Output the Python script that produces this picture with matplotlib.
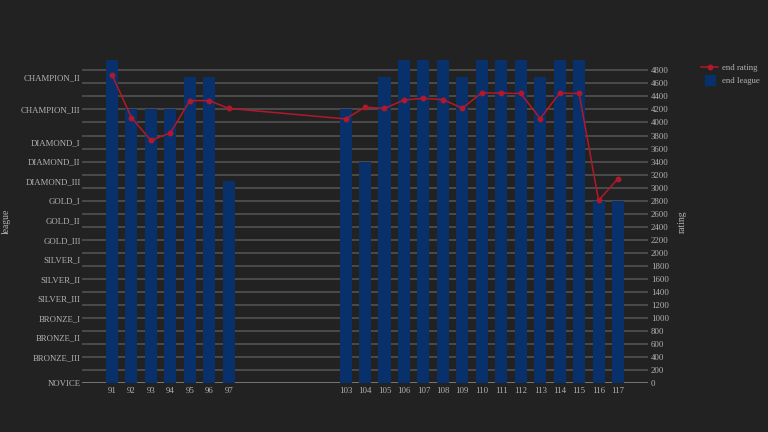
import matplotlib
matplotlib.use("Agg")
import matplotlib.pyplot as plt
from matplotlib.lines import Line2D

# league ladder (name -> rating floor)
league_names = ["NOVICE", "BRONZE_III", "BRONZE_II", "BRONZE_I",
                "SILVER_III", "SILVER_II", "SILVER_I",
                "GOLD_III", "GOLD_II", "GOLD_I",
                "DIAMOND_III", "DIAMOND_II", "DIAMOND_I",
                "CHAMPION_III", "CHAMPION_II", "CHAMPION_I"]
league_floor = [0, 400, 700, 1000, 1300, 1600, 1900, 2200, 2500, 2800,
                3100, 3400, 3700, 4200, 4700, 5200]

seasons = [91, 92, 93, 94, 95, 96, 97,
           103, 104, 105, 106, 107, 108, 109, 110, 111, 112, 113, 114, 115, 116, 117]
end_league = ["CHAMPION_I", "CHAMPION_III", "CHAMPION_III", "CHAMPION_III",
              "CHAMPION_II", "CHAMPION_II", "DIAMOND_III",
              "CHAMPION_III", "DIAMOND_II", "CHAMPION_II", "CHAMPION_I", "CHAMPION_I",
              "CHAMPION_I", "CHAMPION_II", "CHAMPION_I", "CHAMPION_I", "CHAMPION_I",
              "CHAMPION_II", "CHAMPION_I", "CHAMPION_I", "GOLD_I", "GOLD_I"]
end_rating = [4730, 4075, 3725, 3840, 4335, 4335, 4215,
              4055, 4235, 4215, 4345, 4370, 4350, 4220, 4455, 4450, 4445,
              4060, 4450, 4445, 2805, 3140]
rating_ticks = list(range(0, 4801, 200))

BG = "#222222"
TXT = "#b4b4b4"
BAR = "#08306b"
LINE = "#b2182b"
FONT = "Liberation Serif"
FS = 6.3

league_val = dict(zip(league_names, league_floor))
bar_h = [league_val[l] for l in end_league]
ylim = (0, 4958)
xlim = (89.46, 118.54)

fig = plt.figure(figsize=(7.68, 4.32), dpi=100, facecolor=BG)
ax = fig.add_axes([0.1068, 0.1127, 0.7370, 0.7484])
ax2 = ax.twinx()
# rating axis sits behind so its grid stays under the bars
ax.set_zorder(ax2.get_zorder() + 1)
ax.patch.set_visible(False)
ax2.set_facecolor(BG)

ax2.set_ylim(*ylim)
ax2.set_yticks(rating_ticks)
ax2.set_yticklabels([str(t) for t in rating_ticks])
ax2.grid(True, axis="y", color="#565656", lw=1.1)
ax2.axhline(0, color="#7a7a7a", lw=2.0, zorder=3)
ax2.set_ylabel("rating", color=TXT, fontsize=FS + 0.6, family=FONT)
ax2.yaxis.set_label_coords(1.052, 0.5)

ax.bar(seasons, bar_h, width=0.62, color=BAR, zorder=2)
ax.plot(seasons, end_rating, color=LINE, lw=1.1, marker="o", ms=3.2, zorder=3)
ax.set_ylim(*ylim)
ax.set_xlim(*xlim)
ax.set_yticks(league_floor[:-1])
ax.set_yticklabels(league_names[:-1])
ax.set_xticks(seasons)
ax.set_xticklabels([str(s) for s in seasons])
ax.set_ylabel("league", color=TXT, fontsize=FS + 0.6, family=FONT)
ax.yaxis.set_label_coords(-0.126, 0.5)

for a in (ax, ax2):
    for s in a.spines.values():
        s.set_visible(False)
    a.tick_params(length=0, colors=TXT, labelsize=FS)
    for lab in a.get_xticklabels() + a.get_yticklabels():
        lab.set_family(FONT)
ax.tick_params(axis="y", pad=1)
ax.tick_params(axis="x", pad=3)
ax2.tick_params(axis="y", pad=2)

handles = [Line2D([], [], color=LINE, lw=1.1, marker="o", ms=3.2),
           Line2D([], [], ls="none", marker="s", ms=7, color=BAR)]
leg = fig.legend(handles, ["end rating", "end league"], loc="upper left",
                 bbox_to_anchor=(0.907, 0.862), frameon=False, handlelength=2.0,
                 labelspacing=0.55, handletextpad=0.4,
                 borderpad=0, prop={"family": FONT, "size": FS})
for t in leg.get_texts():
    t.set_color(TXT)

fig.savefig("out.png", dpi=100, facecolor=BG)
